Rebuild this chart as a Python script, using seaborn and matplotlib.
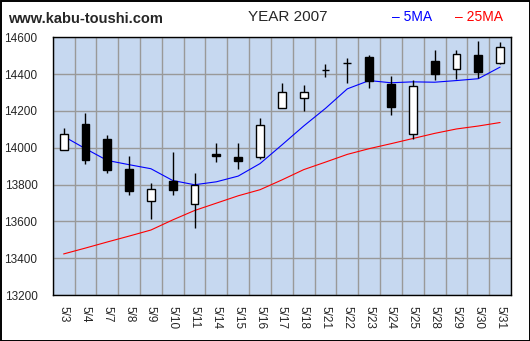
import numpy as np
import pandas as pd
import matplotlib
matplotlib.use("Agg")
import matplotlib.pyplot as plt
from matplotlib.patches import Rectangle
import seaborn as sns

# Daily prices, May 2007
dates = ["5/3", "5/4", "5/7", "5/8", "5/9", "5/10", "5/11", "5/14", "5/15", "5/16", "5/17",
         "5/18", "5/21", "5/22", "5/23", "5/24", "5/25", "5/28", "5/29", "5/30", "5/31"]
open_ = [13990, 14127, 14046, 13882, 13712, 13822, 13693, 13966, 13948, 13951, 14218,
         14268, 14420, 14458, 14491, 14345, 14077, 14469, 14426, 14504, 14458]
close = [14077, 13931, 13877, 13764, 13777, 13772, 13795, 13957, 13927, 14126, 14302,
         14302, 14420, 14458, 14360, 14222, 14338, 14402, 14507, 14413, 14545]
high = [14106, 14189, 14067, 13953, 13806, 13975, 13862, 14024, 14024, 14160, 14353,
        14340, 14454, 14487, 14504, 14389, 14367, 14531, 14531, 14580, 14573]
low = [13990, 13909, 13862, 13742, 13611, 13742, 13562, 13922, 13884, 13938, 14218,
       14200, 14385, 14353, 14325, 14178, 14050, 14367, 14373, 14380, 14453]
ma5 = [14062, 13995, 13931, 13908, 13886, 13822, 13799, 13815, 13846, 13914, 14015,
       14118, 14214, 14320, 14365, 14353, 14358, 14356, 14365, 14375, 14438]
ma25 = [13423, 13455, 13488, 13520, 13553, 13608, 13659, 13699, 13739, 13772, 13825,
        13881, 13922, 13964, 13995, 14022, 14050, 14078, 14102, 14118, 14137]
yticks = [13200, 13400, 13600, 13800, 14000, 14200, 14400, 14600]

df = pd.DataFrame({"date": dates, "open": open_, "close": close, "high": high,
                   "low": low, "ma5": ma5, "ma25": ma25})
df["x"] = np.arange(len(df))

sns.set_style("white")
plt.rcParams["font.family"] = ["Liberation Sans", "DejaVu Sans"]

fig = plt.figure(figsize=(5.30, 3.41), dpi=100)
fig.patch.set_facecolor("white")
ax = fig.add_axes([52.7 / 530, 1 - 295 / 341, (511 - 52.7) / 530, (295 - 37.3) / 341])
ax.set_facecolor("#C6D8F0")

# moving averages
sns.lineplot(data=df, x="x", y="ma25", ax=ax, color="#FF0000", linewidth=0.8, zorder=3)
sns.lineplot(data=df, x="x", y="ma5", ax=ax, color="#0000FF", linewidth=0.8, zorder=3)

# candlesticks
ax.vlines(df["x"], df["low"], df["high"], color="black", linewidth=1.0, zorder=4)
up = df["close"] >= df["open"]
body_h = df["close"] - df["open"]
ax.bar(df["x"], body_h, bottom=df["open"], width=0.36,
       color=np.where(up, "white", "black"), edgecolor="black", linewidth=1.0, zorder=5)

ax.set_xlim(-0.5, len(df) - 0.5)
ax.set_ylim(13200, 14600)
ax.set_yticks(yticks)
ax.set_yticklabels([str(v) for v in yticks], fontsize=8.5)
ax.set_xticks(df["x"])
ax.set_xticklabels(df["date"], rotation=-90, fontsize=8.5)
ax.set_xticks(np.arange(-0.5, len(df)), minor=True)
ax.tick_params(axis="x", which="major", length=0, pad=8)
ax.tick_params(axis="x", which="minor", length=3, direction="out", color="black", width=0.8)
ax.tick_params(axis="y", which="major", length=3, direction="out", color="black", width=0.8, pad=8)
ax.set_xlabel("")
ax.set_ylabel("")

ax.grid(True, axis="y", which="major", color="#999999", linewidth=1.0, zorder=0)
ax.grid(True, axis="x", which="minor", color="#999999", linewidth=1.0, zorder=0)
ax.set_axisbelow(True)
for s in ax.spines.values():
    s.set_color("black")
    s.set_linewidth(1.0)

# header texts
fig.text(8 / 530, 1 - 19 / 341, "www.kabu-toushi.com", fontsize=10.5, fontweight="bold",
         va="center", ha="left")
fig.text(288 / 530, 1 - 17 / 341, "YEAR 2007", fontsize=11, va="center", ha="center")
fig.text(392 / 530, 1 - 17 / 341, "– 5MA", fontsize=10, color="#0000FF", va="center", ha="left")
fig.text(455 / 530, 1 - 17 / 341, "– 25MA", fontsize=10, color="#FF0000", va="center", ha="left")

# outer frame
fig.add_artist(Rectangle((0.5 / 530, 0.5 / 341), 529 / 530, 340 / 341, transform=fig.transFigure,
                         fill=False, edgecolor="black", linewidth=1.4))

fig.savefig("out.png", dpi=100)
